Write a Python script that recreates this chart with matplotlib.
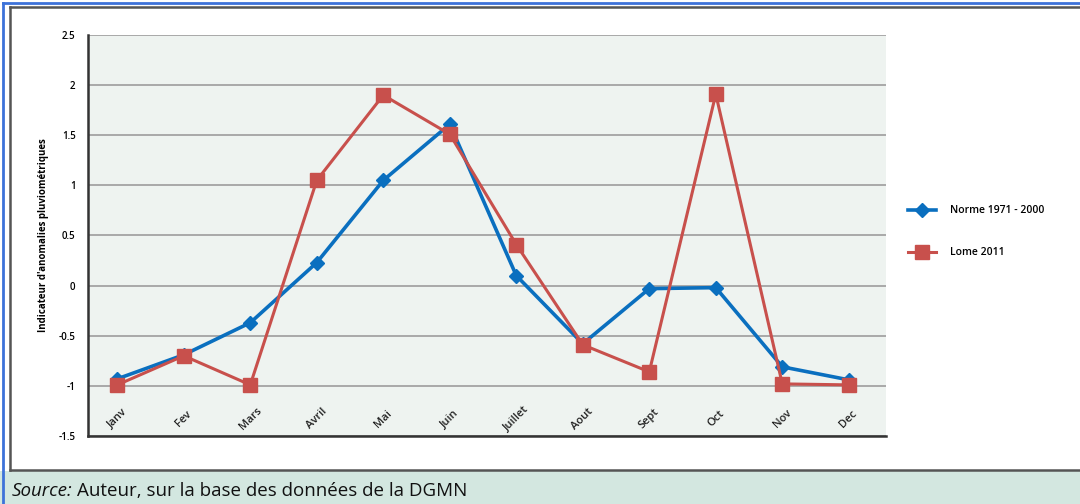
import matplotlib.pyplot as plt
from matplotlib.patches import Rectangle
from matplotlib.lines import Line2D

plt.rcParams['font.family'] = ['Open Sans', 'DejaVu Sans']

mois = ["Janv", "Fev", "Mars", "Avril", "Mai", "Juin",
        "Juillet", "Aout", "Sept", "Oct", "Nov", "Dec"]
norme = [-0.93, -0.69, -0.37, 0.23, 1.05, 1.61, 0.10, -0.58, -0.03, -0.02, -0.81, -0.94]
lome = [-0.99, -0.70, -0.99, 1.05, 1.90, 1.51, 0.41, -0.59, -0.86, 1.91, -0.98, -0.99]
yticks = [-1.5, -1, -0.5, 0, 0.5, 1, 1.5, 2, 2.5]
ytick_labels = ["-1.5", "-1", "-0.5", "0", "0.5", "1", "1.5", "2", "2.5"]

bleu = "#0a6fbf"
rouge = "#c8504c"

fig = plt.figure(figsize=(10.8, 5.04), dpi=100)
fig.patch.set_facecolor("white")

# cadre et bandeau source
fig.patches.append(Rectangle((0, 0), 1, 0.066, transform=fig.transFigure,
                             facecolor="#d3e7e0", edgecolor="none", zorder=0))
fig.add_artist(Line2D([0.009, 1], [0.067, 0.067], color="#555555", lw=1.8))
fig.add_artist(Line2D([0.009, 1], [0.986, 0.986], color="#555555", lw=1.8))
fig.add_artist(Line2D([0.009, 0.009], [0.067, 0.986], color="#555555", lw=1.8))
fig.add_artist(Line2D([0.003, 1], [0.994, 0.994], color="#3d72d9", lw=2))
fig.add_artist(Line2D([0.003, 0.003], [0, 0.994], color="#3d72d9", lw=2))

ax = fig.add_axes([0.0815, 0.1349, 0.8204 - 0.0815, 0.9306 - 0.1349])
ax.set_facecolor("#eef3f0")

x = list(range(len(mois)))
ax.plot(x, norme, color=bleu, lw=2.6, marker="D", markersize=7.5,
        label="Norme 1971 - 2000", zorder=3)
ax.plot(x, lome, color=rouge, lw=2.2, marker="s", markersize=10,
        label="Lome 2011", zorder=4)

ax.set_xlim(-0.44, 11.56)
ax.set_ylim(-1.5, 2.5)
ax.set_yticks(yticks)
ax.set_yticklabels(ytick_labels, fontsize=7, fontweight="semibold")
ax.set_xticks([])
ax.grid(axis="y", color="#a3a3a3", lw=1.3)
ax.set_axisbelow(True)
ax.tick_params(axis="y", length=0, pad=9)

for s in ["top", "right"]:
    ax.spines[s].set_visible(False)
for s in ["left", "bottom"]:
    ax.spines[s].set_color("#333333")
    ax.spines[s].set_linewidth(1.8)

for i, m in enumerate(mois):
    ax.text(i, -1.33, m, rotation=45, ha="center", va="center",
            fontsize=8, fontweight="semibold", color="#222222")

ax.set_ylabel("Indicateur d'anomalies pluviométriques", fontsize=7,
              fontweight="bold", labelpad=7)

leg = fig.legend(loc="center left", bbox_to_anchor=(0.832, 0.54), frameon=False,
                 fontsize=7.5, labelspacing=2.95, handlelength=2.7, handletextpad=1.3)
for t in leg.get_texts():
    t.set_fontweight("semibold")

src = fig.text(0.011, 0.016, "Source:", style="italic", fontsize=13.5, color="#111111")
fig.canvas.draw()
bb = src.get_window_extent().transformed(fig.transFigure.inverted())
fig.text(bb.x1 + 0.004, 0.016, "Auteur, sur la base des données de la DGMN",
         fontsize=13.5, color="#111111")

fig.savefig("out.png", dpi=100)
